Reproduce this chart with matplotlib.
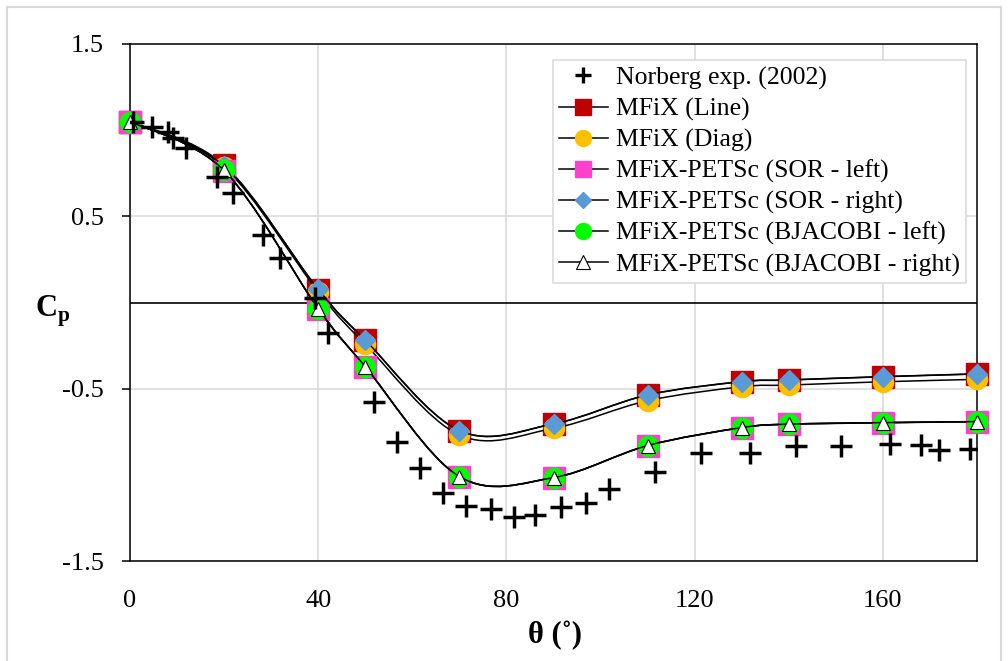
import numpy as np
import matplotlib
matplotlib.use("Agg")
import matplotlib.pyplot as plt
from matplotlib.path import Path
from matplotlib.patches import PathPatch, Rectangle
from matplotlib.lines import Line2D

plt.rcParams['font.family'] = ['Liberation Serif', 'DejaVu Serif']
plt.rcParams['mathtext.fontset'] = 'custom'
plt.rcParams['mathtext.rm'] = 'Liberation Serif'
plt.rcParams['mathtext.bf'] = 'Liberation Serif:bold'

# Norberg exp. (2002)
exp_theta = [0.6, 4.6, 8.1, 9.2, 12.0, 18.4, 21.9, 28.2, 31.9, 39.3, 42.1, 51.9, 56.8,
             61.6, 66.5, 71.3, 76.8, 81.7, 86.0, 91.5, 97.0, 101.9, 111.6, 121.4,
             131.8, 141.5, 151.2, 161.6, 168.1, 172.0, 178.6]
exp_cp = [1.05, 1.02, 0.99, 0.953, 0.898, 0.73, 0.634, 0.392, 0.256, 0.024, -0.179, -0.576,
          -0.808, -0.959, -1.107, -1.179, -1.198, -1.243, -1.233, -1.185, -1.165, -1.082,
          -0.984, -0.872, -0.872, -0.833, -0.833, -0.823, -0.827, -0.856, -0.852]

# simulations
theta = [0, 20, 40, 50, 70, 90, 110, 130, 140, 160, 180]
cp_line = [1.05, 0.797, 0.074, -0.219, -0.744, -0.705, -0.537, -0.460, -0.450, -0.431, -0.415]
cp_diag = [1.05, 0.785, 0.061, -0.242, -0.769, -0.730, -0.570, -0.489, -0.479, -0.460, -0.446]
cp_sor_left = [1.05, 0.765, -0.037, -0.373, -1.011, -1.017, -0.831, -0.727, -0.707, -0.698, -0.692]
cp_sor_right = [1.05, 0.790, 0.077, -0.218, -0.743, -0.704, -0.536, -0.459, -0.449, -0.430, -0.414]
cp_bj_left = [1.05, 0.766, -0.036, -0.372, -1.010, -1.016, -0.830, -0.726, -0.706, -0.697, -0.691]
cp_bj_right = [1.05, 0.766, -0.036, -0.372, -1.010, -1.016, -0.830, -0.726, -0.706, -0.697, -0.691]

labels = ["Norberg exp. (2002)", "MFiX (Line)", "MFiX (Diag)", "MFiX-PETSc (SOR - left)",
          "MFiX-PETSc (SOR - right)", "MFiX-PETSc (BJACOBI - left)", "MFiX-PETSc (BJACOBI - right)"]


def smooth_path(xs, ys):
    # bezier like excel's smoothed line
    pts = np.column_stack([xs, ys]).astype(float)
    n = len(pts)
    verts = [pts[0]]
    codes = [Path.MOVETO]
    for i in range(n - 1):
        p0 = pts[max(i - 1, 0)]
        p1 = pts[i]
        p2 = pts[i + 1]
        p3 = pts[min(i + 2, n - 1)]
        verts += [p1 + (p2 - p0) / 6, p2 - (p3 - p1) / 6, p2]
        codes += [Path.CURVE4] * 3
    return Path(verts, codes)


fig = plt.figure(figsize=(10.08, 6.61), dpi=100)
ax = fig.add_axes([130 / 1008, 1 - 561 / 661, 847 / 1008, 517 / 661])

# marker style, legend marker size
series = [
    (cp_line, dict(marker='s', ms=16.5, mfc='#C00000', mec='#C00000'), 11.5),
    (cp_diag, dict(marker='o', ms=14.5, mfc='#FFC000', mec='#FFC000'), 11.5),
    (cp_sor_left, dict(marker='s', ms=16.5, mfc='#FF40CC', mec='#FF40CC'), 11.5),
    (cp_sor_right, dict(marker='D', ms=10, mfc='#5B9BD5', mec='#5B9BD5'), 8.5),
    (cp_bj_left, dict(marker='o', ms=14.5, mfc='#00FF00', mec='#00FF00'), 11.5),
    (cp_bj_right, dict(marker='^', ms=10, mfc='white', mec='black', mew=0.8), 10),
]

z = 3
handles = [Line2D([], [], ls='none', marker='+', ms=12, mew=2.4, color='black')]
for cp, st, lms in series:
    ax.add_patch(PathPatch(smooth_path(theta, cp), fc='none', ec='black', lw=1.1, zorder=z))
    ax.plot(theta, cp, ls='none', zorder=z + 0.5, clip_on=False, **st)
    hst = dict(st)
    hst['ms'] = lms
    handles.append(Line2D([], [], color='black', lw=1.1, **hst))
    z += 1

ax.plot(exp_theta, exp_cp, ls='none', marker='+', ms=16, mew=2.5, color='black', zorder=20)

ax.axhline(0, color='black', lw=1.2, zorder=2)
ax.set_xlim(0, 180)
ax.set_ylim(-1.5, 1.5)
ax.set_xticks([0, 40, 80, 120, 160])
ax.set_yticks([-1.5, -0.5, 0.5, 1.5])
ax.set_yticklabels(['-1.5', '-0.5', '0.5', '1.5'])
ax.grid(True, color='#d9d9d9', lw=1.1, zorder=0)
ax.set_axisbelow(True)
for s in ax.spines.values():
    s.set_color('black')
    s.set_linewidth(1.1)
ax.tick_params(axis='x', length=0, pad=21, labelsize=19)
ax.tick_params(axis='y', direction='out', length=6, width=1.1, pad=13, labelsize=19)

leg = ax.legend(handles, labels, loc='upper right', bbox_to_anchor=(0.987, 0.969),
                borderaxespad=0, fontsize=18.5, frameon=True, fancybox=False,
                edgecolor='#d9d9d9', framealpha=1, handlelength=1.9, handletextpad=0.3,
                labelspacing=0.3, borderpad=0.25)
leg.get_frame().set_linewidth(1.1)
leg.set_zorder(30)

fig.text(35 / 1008, 1 - 317 / 661, r'$\mathbf{C}_{\mathbf{p}}$', fontsize=22, ha='left', va='baseline')
fig.text(555 / 1008, 1 - 636 / 661, 'θ (˚)', fontsize=22, fontweight='bold', ha='center', va='center')

fig.patches.append(Rectangle((7 / 1008, -0.05), 994 / 1008, 1.05 - 7 / 661, transform=fig.transFigure,
                             fill=False, ec='#d9d9d9', lw=1.5))

fig.savefig('out.png', dpi=100)
